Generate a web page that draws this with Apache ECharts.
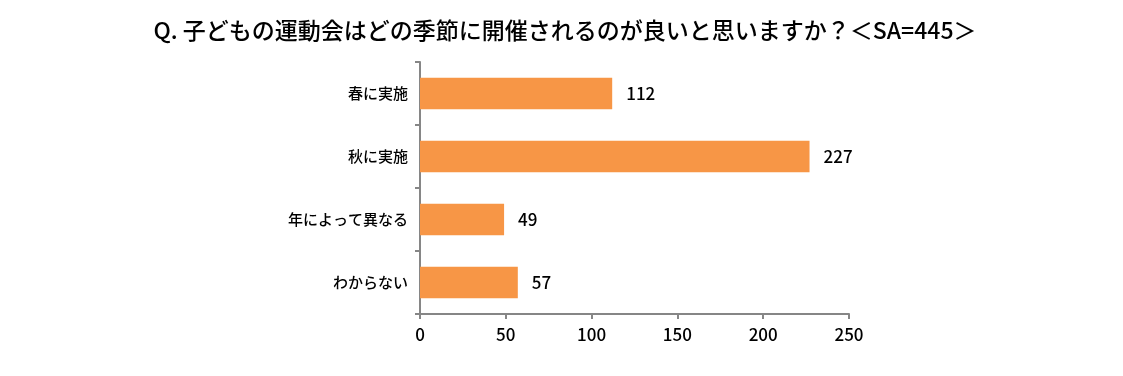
<!DOCTYPE html>
<html>
<head>
<meta charset="utf-8">
<script src="https://cdn.jsdelivr.net/npm/echarts@6/dist/echarts.min.js"></script>
<style>
  html, body { margin: 0; padding: 0; background: #fff; }
  #chart { width: 1123px; height: 376px; }
</style>
</head>
<body>
<div id="chart"></div>
<script>
const titleText = 'Q. 子どもの運動会はどの季節に開催されるのが良いと思いますか？＜SA=445＞';
const categories = ['春に実施', '秋に実施', '年によって異なる', 'わからない'];
const counts = [112, 227, 49, 57];
const xTicks = [0, 50, 100, 150, 200, 250];

const font = '"Noto Sans CJK JP", "Noto Sans", sans-serif';
const axisGrey = '#868686';

const chart = echarts.init(document.getElementById('chart'));
chart.setOption({
  animation: false,
  title: {
    text: titleText,
    left: 560,
    textAlign: 'center',
    top: 14,
    textStyle: { fontFamily: font, fontSize: 23, fontWeight: 500, color: '#000' }
  },
  grid: { left: 420, right: 274, top: 62, bottom: 62 },
  xAxis: {
    type: 'value',
    min: xTicks[0],
    max: xTicks[xTicks.length - 1],
    interval: 50,
    splitLine: { show: false },
    axisLine: { show: true, lineStyle: { color: axisGrey, width: 2 } },
    axisTick: { show: true, length: 5, lineStyle: { color: axisGrey, width: 2 } },
    axisLabel: { fontFamily: font, fontSize: 17, fontWeight: 500, color: '#000', margin: 12 }
  },
  yAxis: {
    type: 'category',
    inverse: true,
    data: categories,
    axisLine: { show: true, lineStyle: { color: axisGrey, width: 2 } },
    axisTick: { show: true, length: 5, lineStyle: { color: axisGrey, width: 2 } },
    axisLabel: { fontFamily: font, fontSize: 15, fontWeight: 500, color: '#000', margin: 12 }
  },
  series: [{
    type: 'bar',
    data: counts,
    barWidth: '50%',
    itemStyle: { color: '#F79646' },
    label: {
      show: true,
      position: 'right',
      distance: 14,
      fontFamily: font,
      fontSize: 17,
      fontWeight: 500,
      color: '#000'
    }
  }]
});
</script>
</body>
</html>
